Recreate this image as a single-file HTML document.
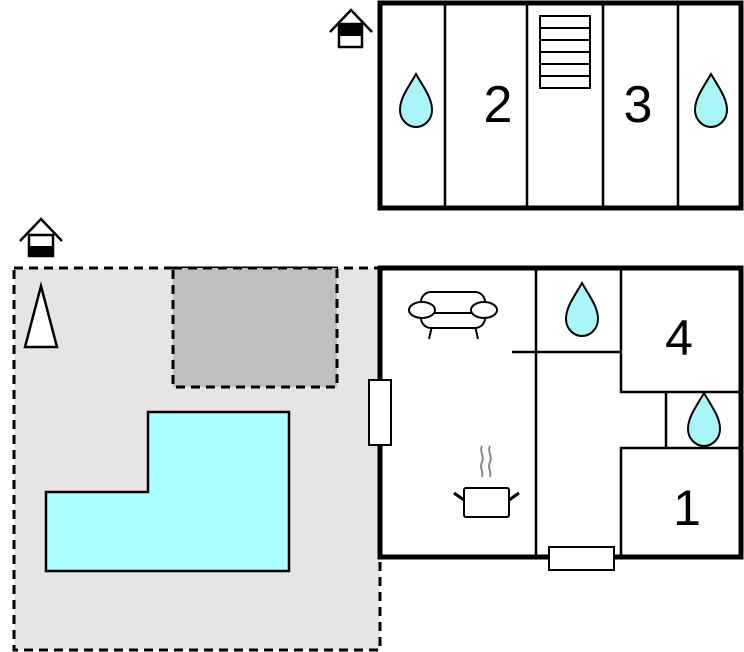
<!DOCTYPE html>
<html><head><meta charset="utf-8"><style>html,body{margin:0;padding:0;background:#fff}svg{display:block}</style></head><body>
<svg width="744" height="652" viewBox="0 0 744 652" xmlns="http://www.w3.org/2000/svg" font-family="Liberation Sans, sans-serif">
<defs>
<path id="drop" d="M0,-28 C-8,-14 -16,-4 -16,8 C-16,18 -8,25 0,25 C8,25 16,18 16,8 C16,-4 8,-14 0,-28 Z" fill="#aaf5f8" stroke="#000" stroke-width="2"/>
</defs>
<!-- garden -->
<rect x="14" y="268" width="366" height="382" fill="#e5e5e5" stroke="#000" stroke-width="3" stroke-dasharray="9,6"/>
<rect x="173" y="268" width="164" height="119" fill="#bfbfbf" stroke="#000" stroke-width="3" stroke-dasharray="9,6"/>
<polygon points="46,492 148,492 148,412 289,412 289,571 46,571" fill="#aaffff" stroke="#000" stroke-width="2.5"/>
<polygon points="25,347 41,286 57,347" fill="#fff" stroke="#000" stroke-width="2.5"/>
<!-- house icons -->
<g stroke="#000" stroke-width="2.5" fill="none">
<polyline points="20,241 41,219 62,241"/>
<rect x="29" y="235" width="24" height="21" fill="#fff"/>
<polyline points="330,32 351,10 372,32"/>
<rect x="339" y="24" width="23" height="23" fill="#fff"/>
</g>
<rect x="29" y="246" width="24" height="11" fill="#000"/>
<rect x="339" y="24" width="23" height="12" fill="#000"/>
<!-- top building -->
<rect x="380" y="3" width="361" height="205" fill="#fff" stroke="#000" stroke-width="5"/>
<g stroke="#000" stroke-width="2.5">
<line x1="445" y1="3" x2="445" y2="208"/>
<line x1="527" y1="3" x2="527" y2="208"/>
<line x1="603" y1="3" x2="603" y2="208"/>
<line x1="678" y1="3" x2="678" y2="208"/>
</g>
<g stroke="#000" stroke-width="2" fill="#fff">
<rect x="540" y="16" width="50" height="72"/>
<line x1="540" y1="28" x2="590" y2="28"/><line x1="540" y1="40" x2="590" y2="40"/><line x1="540" y1="52" x2="590" y2="52"/><line x1="540" y1="64" x2="590" y2="64"/><line x1="540" y1="76" x2="590" y2="76"/>
</g>
<use href="#drop" x="416" y="102"/>
<use href="#drop" x="711" y="102"/>
<text x="498" y="122" font-size="52" text-anchor="middle">2</text>
<text x="638" y="122" font-size="52" text-anchor="middle">3</text>
<!-- bottom building -->
<rect x="380" y="268" width="361" height="289" fill="#fff" stroke="#000" stroke-width="5"/>
<g stroke="#000" stroke-width="2.5" fill="none">
<line x1="536" y1="268" x2="536" y2="557"/>
<line x1="512" y1="352" x2="621" y2="352"/>
<polyline points="621,268 621,392 741,392"/>
<line x1="666" y1="392" x2="666" y2="448"/>
<polyline points="741,448 621,448 621,557"/>
</g>
<rect x="369" y="380" width="22" height="65" fill="#fff" stroke="#000" stroke-width="2"/>
<rect x="549" y="547" width="65" height="23" fill="#fff" stroke="#000" stroke-width="2"/>
<use href="#drop" x="582" y="311"/>
<use href="#drop" x="704" y="421"/>
<text x="679" y="355" font-size="50" text-anchor="middle">4</text>
<text x="687" y="525" font-size="50" text-anchor="middle">1</text>
<!-- sofa -->
<g stroke="#000" stroke-width="2" fill="#fff">
<line x1="432" y1="326" x2="429" y2="339"/><line x1="475" y1="326" x2="478" y2="339"/>
<rect x="421" y="292" width="64" height="36" rx="10"/>
<line x1="428" y1="313" x2="478" y2="313"/>
<ellipse cx="422" cy="310" rx="13" ry="8"/>
<ellipse cx="484" cy="310" rx="13" ry="8"/>
</g>
<!-- pot -->
<g stroke="#000" fill="#fff">
<line x1="454" y1="493" x2="464" y2="500" stroke-width="3"/>
<line x1="519" y1="493" x2="509" y2="500" stroke-width="3"/>
<rect x="464" y="488" width="45" height="29" rx="2" stroke-width="2"/>
</g>
<g stroke="#888" stroke-width="2" fill="none">
<path d="M482,446 c-3,6 3,10 0,16 c-3,6 2,10 0,15"/>
<path d="M490,446 c-3,6 3,10 0,16 c-3,6 2,10 0,15"/>
</g>
</svg>
</body></html>
